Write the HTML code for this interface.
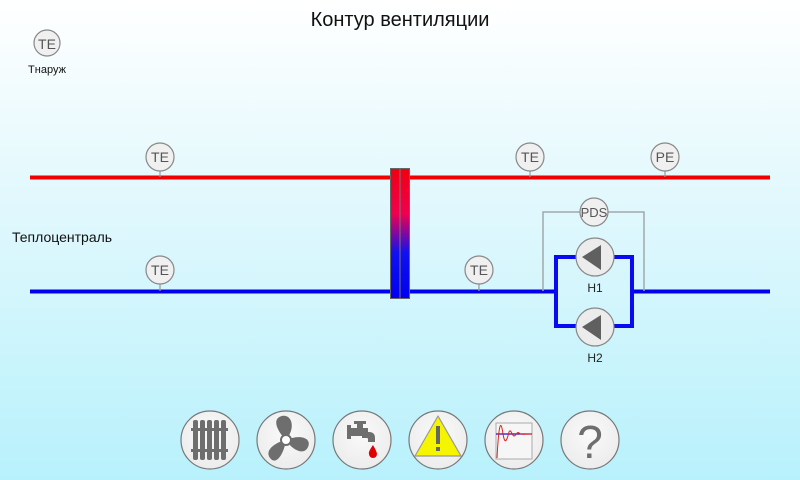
<!DOCTYPE html>
<html><head><meta charset="utf-8"><style>
html,body{margin:0;padding:0;width:800px;height:480px;overflow:hidden}
body{background:linear-gradient(#ffffff 0%,#e6f9fd 35%,#b8f1fc 100%)}
svg{display:block}
text{font-family:"Liberation Sans","DejaVu Sans",sans-serif}
</style></head><body>
<svg width="800" height="480" viewBox="0 0 800 480" xmlns="http://www.w3.org/2000/svg">
<defs>
<linearGradient id="hx" x1="0" y1="0" x2="0" y2="1">
<stop offset="0" stop-color="#f00010"/><stop offset="0.35" stop-color="#f00050"/>
<stop offset="0.65" stop-color="#1010f0"/><stop offset="1" stop-color="#0000f0"/>
</linearGradient>
<radialGradient id="btn" cx="0.5" cy="0.4" r="0.6"><stop offset="0" stop-color="#fafafa"/><stop offset="1" stop-color="#ececec"/></radialGradient>
</defs>
<text x="400" y="26" font-size="20" text-anchor="middle" fill="#111">Контур вентиляции</text>
<circle cx="47" cy="43" r="13" fill="#f0f0f0" stroke="#888" stroke-width="1.2"/>
<text x="47" y="49" font-size="14" text-anchor="middle" fill="#555">TE</text>
<text x="47" y="73" font-size="11" text-anchor="middle" fill="#111">Тнаруж</text>
<text x="12" y="242" font-size="14" fill="#111">Теплоцентраль</text>

<!-- lines -->
<rect x="30" y="175.5" width="740" height="4" fill="#f00000"/>
<rect x="30" y="289.5" width="526" height="4" fill="#0000ee"/>
<rect x="632" y="289.5" width="138" height="4" fill="#0000ee"/>

<!-- PDS gray lines -->
<polyline points="543,291 543,212 644,212 644,291" fill="none" stroke="#a0a8ac" stroke-width="1.5"/>

<!-- pump loop -->
<rect x="556" y="257" width="76" height="69" fill="none" stroke="#0a0af0" stroke-width="4"/>

<!-- heat exchanger -->
<rect x="390.5" y="168.5" width="19" height="130" fill="url(#hx)" stroke="#666" stroke-width="1"/>
<line x1="400" y1="169" x2="400" y2="298" stroke="#777" stroke-width="1"/>

<!-- sensors -->
<g stroke="#999" stroke-width="1.2">
<line x1="160" y1="170" x2="160" y2="177"/><line x1="530" y1="170" x2="530" y2="177"/><line x1="665" y1="170" x2="665" y2="177"/>
<line x1="160" y1="283" x2="160" y2="291"/><line x1="479" y1="283" x2="479" y2="291"/>
</g>
<g fill="#f0f0f0" stroke="#888" stroke-width="1.2">
<circle cx="160" cy="157" r="14"/><circle cx="530" cy="157" r="14"/><circle cx="665" cy="157" r="14"/>
<circle cx="160" cy="270" r="14"/><circle cx="479" cy="270" r="14"/><circle cx="594" cy="212" r="14"/>
</g>
<g font-size="14" fill="#555" text-anchor="middle">
<text x="160" y="162">TE</text><text x="530" y="162">TE</text><text x="665" y="162">PE</text>
<text x="160" y="275">TE</text><text x="479" y="275">TE</text><text x="594" y="217" font-size="13">PDS</text>
</g>

<!-- pumps -->
<g fill="#ececec" stroke="#888" stroke-width="1.2">
<circle cx="595" cy="257" r="19"/><circle cx="595" cy="327" r="19"/>
</g>
<g fill="#606060">
<polygon points="582,257 601,245 601,270"/><polygon points="582,327 601,315 601,340"/>
</g>
<text x="595" y="292" font-size="12" text-anchor="middle" fill="#222">H1</text>
<text x="595" y="362" font-size="12" text-anchor="middle" fill="#222">H2</text>

<!-- buttons -->
<g fill="url(#btn)" stroke="#777" stroke-width="1.2">
<circle cx="210" cy="440" r="29"/><circle cx="286" cy="440" r="29"/><circle cx="362" cy="440" r="29"/>
<circle cx="438" cy="440" r="29"/><circle cx="514" cy="440" r="29"/><circle cx="590" cy="440" r="29"/>
</g>
<!-- radiator -->
<g fill="#6e6e6e">
<rect x="193" y="420" width="5" height="40" rx="2"/><rect x="200" y="420" width="5" height="40" rx="2"/>
<rect x="207" y="420" width="5" height="40" rx="2"/><rect x="214" y="420" width="5" height="40" rx="2"/>
<rect x="221" y="420" width="5" height="40" rx="2"/>
<rect x="191" y="428" width="37" height="3"/><rect x="191" y="449" width="37" height="3"/>
</g>
<!-- fan -->
<g fill="#6e6e6e">
<path d="M286,440 C276,430 272,418 282,416 C292,414 296,428 286,440Z"/>
<path d="M286,440 C300,434 312,438 308,447 C304,456 292,450 286,440Z"/>
<path d="M286,440 C284,454 276,466 270,458 C264,450 276,442 286,440Z"/>
<circle cx="286" cy="440" r="5" fill="#fff" stroke="#6e6e6e" stroke-width="2"/>
</g>
<!-- tap -->
<g fill="#6e6e6e">
<rect x="347" y="425" width="4" height="14"/><rect x="350" y="428" width="18" height="8"/>
<path d="M362,432 h7 q6,0 6,6 v4 h-7 v-3 q0,-1 -1,-1 h-5z"/>
<rect x="357" y="423" width="6" height="5"/><rect x="354" y="421" width="12" height="3"/>
</g>
<path d="M373,445 q-5,7 -4,9 a4,4 0 0 0 8,0 q0,-2 -4,-9z" fill="#e00000"/>
<!-- warning -->
<polygon points="438,416 461,456 415,456" fill="#f5f500" stroke="#999" stroke-width="1.2" stroke-linejoin="round"/>
<rect x="436" y="426" width="4" height="18" fill="#666"/><rect x="436" y="447" width="4" height="4" fill="#666"/>
<!-- graph -->
<rect x="496" y="423" width="36" height="36" fill="#f6f6f6" stroke="#aaa" stroke-width="1"/>
<line x1="496" y1="434" x2="532" y2="434" stroke="#1010e0" stroke-width="1.2"/>
<path d="M497,458 C499,420 501,420 503,434 C505,446 507,440 509,432 C511,428 512,436 514,436 C516,436 517,431 519,433 C521,435 523,434 532,434" fill="none" stroke="#e02020" stroke-width="1"/>
<!-- question -->
<text x="590" y="458" font-size="46" text-anchor="middle" fill="#6e6e6e">?</text>
</svg>
</body></html>
